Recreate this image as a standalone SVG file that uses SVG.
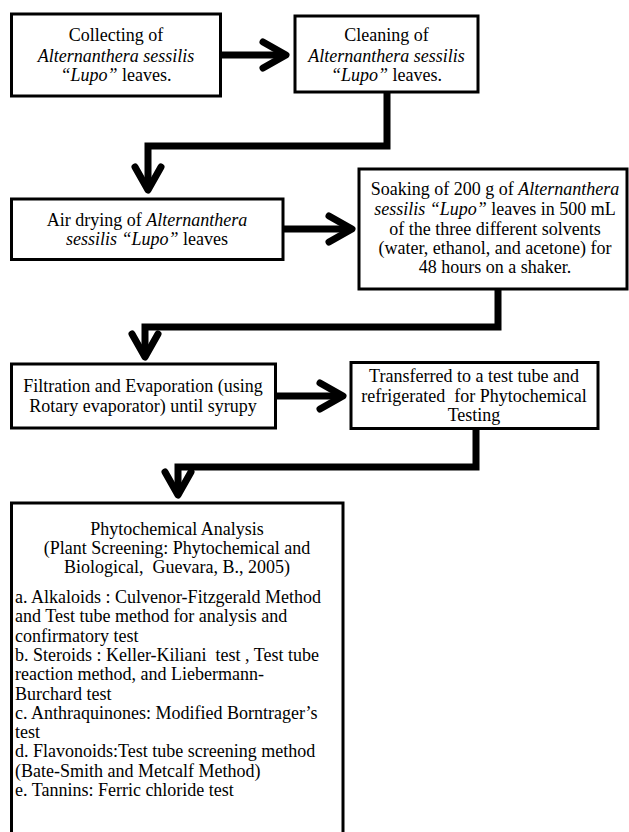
<svg xmlns="http://www.w3.org/2000/svg" width="629" height="832" viewBox="0 0 629 832">
<style>
  .box { fill: #fff; stroke: #000; stroke-width: 3; }
  text { font-family: 'Liberation Serif', 'Times New Roman', serif; font-size: 18px; fill: #000; }
  .c { text-anchor: middle; }
  .i { font-style: italic; }
  .conn { fill: none; stroke: #000; stroke-width: 7; stroke-linejoin: miter; marker-end: url(#ah); }
</style>
<defs>
  <marker id="ah" markerUnits="userSpaceOnUse" markerWidth="60" markerHeight="60" viewBox="-40 -30 60 60" refX="0" refY="0" orient="auto">
    <path d="M-23,-13 L0,0 L-23,13" fill="none" stroke="#000" stroke-width="7" stroke-linecap="round" stroke-linejoin="round"/>
  </marker>
</defs>
<rect width="629" height="832" fill="#fff"/>

<g id="connectors">
  <path class="conn" d="M221 55 H286"/>
  <path class="conn" d="M387 92 V146 H148 V190"/>
  <path class="conn" d="M283 229 H352"/>
  <path class="conn" d="M498 289 V327 H145 V357"/>
  <path class="conn" d="M275 396 H343"/>
  <path class="conn" d="M476 429 V467 H178 V495"/>
</g>

<g id="collecting">
  <rect class="box" x="11.5" y="14" width="209" height="82"/>
  <text class="c" x="116" y="41">Collecting of</text>
  <text class="c i" x="116" y="62">Alternanthera sessilis</text>
  <text class="c" x="116" y="81"><tspan class="i">“Lupo”</tspan> leaves.</text>
</g>

<g id="cleaning">
  <rect class="box" x="295" y="16" width="183" height="76"/>
  <text class="c" x="386.5" y="41">Cleaning of</text>
  <text class="c i" x="386.5" y="62">Alternanthera sessilis</text>
  <text class="c" x="386.5" y="81"><tspan class="i">“Lupo”</tspan> leaves.</text>
</g>

<g id="airdrying">
  <rect class="box" x="11.5" y="199" width="271.5" height="60.5"/>
  <text class="c" x="147" y="226">Air drying of <tspan class="i">Alternanthera</tspan></text>
  <text class="c" x="147" y="245"><tspan class="i">sessilis “Lupo”</tspan> leaves</text>
</g>

<g id="soaking">
  <rect class="box" x="359" y="169" width="268" height="120"/>
  <text class="c" x="495" y="195">Soaking of 200 g of <tspan class="i">Alternanthera</tspan></text>
  <text class="c" x="495" y="215"><tspan class="i">sessilis “Lupo”</tspan> leaves in 500 mL</text>
  <text class="c" x="495" y="235">of the three different solvents</text>
  <text class="c" x="495" y="254">(water, ethanol, and acetone) for</text>
  <text class="c" x="495" y="273">48 hours on a shaker.</text>
</g>

<g id="filtration">
  <rect class="box" x="11.5" y="364" width="264" height="64"/>
  <text class="c" x="143" y="392">Filtration and Evaporation (using</text>
  <text class="c" x="143" y="412">Rotary evaporator) until syrupy</text>
</g>

<g id="transferred">
  <rect class="box" x="351" y="362.5" width="247" height="66"/>
  <text class="c" x="474" y="382">Transferred to a test tube and</text>
  <text class="c" x="474" y="402" xml:space="preserve">refrigerated  for Phytochemical</text>
  <text class="c" x="474" y="421">Testing</text>
</g>

<g id="analysis">
  <rect class="box" x="11.5" y="503" width="331.5" height="345"/>
  <text class="c" x="177" y="535">Phytochemical Analysis</text>
  <text class="c" x="177" y="554">(Plant Screening: Phytochemical and</text>
  <text class="c" x="177" y="573" xml:space="preserve">Biological,  Guevara, B., 2005)</text>
  <text x="15" y="603">a. Alkaloids : Culvenor-Fitzgerald Method</text>
  <text x="15" y="622.3">and Test tube method for analysis and</text>
  <text x="15" y="641.6">confirmatory test</text>
  <text x="15" y="660.9" xml:space="preserve">b. Steroids : Keller-Kiliani  test , Test tube</text>
  <text x="15" y="680.2">reaction method, and Liebermann-</text>
  <text x="15" y="699.5">Burchard test</text>
  <text x="15" y="718.8">c. Anthraquinones: Modified Borntrager’s</text>
  <text x="15" y="738.1">test</text>
  <text x="15" y="757.4">d. Flavonoids:Test tube screening method</text>
  <text x="15" y="776.7">(Bate-Smith and Metcalf Method)</text>
  <text x="15" y="796">e. Tannins: Ferric chloride test</text>
</g>
</svg>
